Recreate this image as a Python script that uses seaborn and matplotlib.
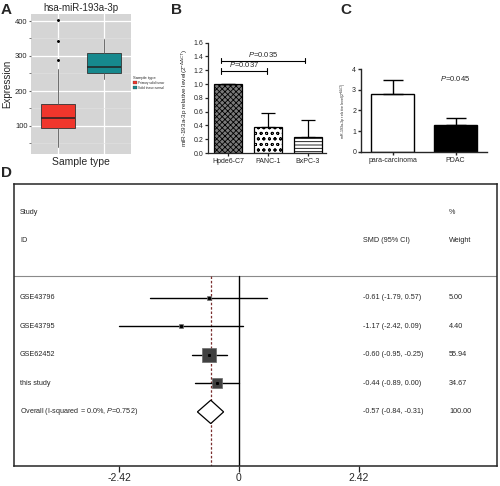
"""Multi-panel miR-193a-3p figure: TCGA boxplot, qPCR bars and forest plot."""

import matplotlib

matplotlib.use("Agg")
import matplotlib.pyplot as plt
from matplotlib.patches import Polygon
import numpy as np
import pandas as pd
import seaborn as sns

W, H = 500, 486

# ---- panel A: TCGA expression (box summary)
a_groups = ["Primary solid tumor", "Solid tissue normal"]
a_colors = ["#F0362C", "#16898E"]
a_whislo = [40, 235]
a_q1 = [95, 250]
a_med = [124, 269]
a_q3 = [163, 309]
a_whishi = [262, 348]
a_fliers = [[288, 342, 402], []]
a_yticks = [100, 200, 300, 400]

# ---- panel B: cell lines
b_lines = ["Hpde6-C7", "PANC-1", "BxPC-3"]
b_mean = [1.0, 0.38, 0.23]
b_err = [0.0, 0.20, 0.25]
b_brackets = [("0.037", 1, 1.19), ("0.035", 2, 1.34)]

# ---- panel C: tissues
c_groups = ["para-carcinoma", "PDAC"]
c_mean = [2.78, 1.30]
c_err = [0.67, 0.32]
c_p = "0.045"

# ---- panel D: meta-analysis
d_studies = ["GSE43796", "GSE43795", "GSE62452", "this study"]
d_smd = [-0.61, -1.17, -0.60, -0.44]
d_lo = [-1.79, -2.42, -0.95, -0.89]
d_hi = [0.57, 0.09, -0.25, 0.00]
d_weight = [5.00, 4.40, 55.94, 34.67]
d_overall = [-0.57, -0.84, -0.31]
d_overall_weight = "100.00"
d_xticks = [-2.42, 0, 2.42]


def px_axes(fig, left, top, right, bottom):
    return fig.add_axes([left / W, 1 - bottom / H, (right - left) / W, (bottom - top) / H])


sns.set_style("ticks")
plt.rcParams["font.family"] = ["Liberation Sans", "DejaVu Sans"]
plt.rcParams["mathtext.fontset"] = "custom"
plt.rcParams["mathtext.rm"] = "Liberation Sans"
plt.rcParams["mathtext.it"] = "Liberation Sans:italic"
plt.rcParams["hatch.linewidth"] = 0.6
plt.rcParams["hatch.color"] = "black"

fig = plt.figure(figsize=(W / 100, H / 100), dpi=100)

# ================= A
ax = px_axes(fig, 31, 14, 131, 154)
stats = []
for i, g in enumerate(a_groups):
    stats.append(dict(label=g, whislo=a_whislo[i], q1=a_q1[i], med=a_med[i],
                      q3=a_q3[i], whishi=a_whishi[i], fliers=a_fliers[i]))
bp = ax.bxp(stats, positions=[0, 1], widths=0.75, patch_artist=True, showcaps=False,
            boxprops=dict(edgecolor="#333333", linewidth=0.6),
            medianprops=dict(color="#222222", linewidth=1.1),
            whiskerprops=dict(color="#555555", linewidth=0.6),
            flierprops=dict(marker="o", markersize=1.1, markerfacecolor="black",
                            markeredgecolor="black"))
for patch, col in zip(bp["boxes"], a_colors):
    patch.set_facecolor(col)
ax.set_xlim(-0.6, 1.6)
ax.set_ylim(20, 420)
ax.set_facecolor("#D5D5D5")
ax.set_axisbelow(True)
ax.set_yticks(a_yticks)
ax.set_yticks([50, 150, 250, 350], minor=True)
ax.set_xticks([0, 1])
ax.set_xticklabels([])
ax.grid(True, which="major", color="white", linewidth=0.9)
ax.grid(True, which="minor", axis="y", color="#E2E2E2", linewidth=0.4)
for s in ax.spines.values():
    s.set_visible(False)
ax.tick_params(axis="both", which="both", length=1.5, color="#666666", labelsize=5.5, pad=1)
ax.tick_params(axis="x", length=0)
ax.set_title("hsa-miR-193a-3p", fontsize=7, pad=2)
ax.set_ylabel("Expression", fontsize=7, labelpad=2)
ax.set_xlabel("Sample type", fontsize=7.5, labelpad=1)
fig.text(133 / W, 1 - 78 / H, "Sample type", fontsize=3, va="center")
for i, (g, col) in enumerate(zip(a_groups, a_colors)):
    y = 83 + i * 5
    fig.patches.append(plt.Rectangle((133 / W, 1 - (y + 1.5) / H), 3.5 / W, 3 / H,
                                     facecolor=col, edgecolor="#333333", linewidth=0.2,
                                     transform=fig.transFigure))
    fig.text(138 / W, 1 - y / H, g, fontsize=2.2, va="center")

# ================= B
axb = px_axes(fig, 208, 42.7, 326, 153)
df_b = pd.DataFrame({"line": b_lines, "level": b_mean})
sns.barplot(data=df_b, x="line", y="level", ax=axb, width=0.68, color="white",
            edgecolor="black", linewidth=0.9)
b_faces = ["#7A7A7A", "white", "white"]
b_hatch = ["xxxxxx", "ooo", "-----"]
for p, fc, ht in zip(axb.patches, b_faces, b_hatch):
    p.set_facecolor(fc)
    p.set_hatch(ht)
axb.errorbar(range(len(b_lines)), b_mean, yerr=[np.zeros(3), b_err], fmt="none",
             ecolor="black", elinewidth=0.9, capsize=5, capthick=0.9)
for ptxt, j, yv in b_brackets:
    x0, x1 = -0.17, j - 0.03 if j == 1 else j - 0.07
    axb.plot([x0, x1], [yv, yv], color="black", lw=0.8)
    for xx in (x0, x1):
        axb.plot([xx, xx], [yv - 0.04, yv + 0.04], color="black", lw=0.8)
    axb.text((x0 + x1) / 2, yv + 0.03, r"$\it{P}$=" + ptxt, ha="center", va="bottom", fontsize=5.5)
axb.set_ylim(0, 1.6)
axb.set_xlim(-0.5, 2.45)
axb.set_yticks(np.arange(0, 1.61, 0.2))
axb.set_yticklabels([f"{v:.1f}" for v in np.arange(0, 1.61, 0.2)])
axb.set_xlabel("")
axb.set_ylabel(r"miR-193a-3p relative level(2$^{-\Delta\Delta CT}$)", fontsize=4.6, labelpad=2)
sns.despine(ax=axb)
axb.tick_params(labelsize=5, length=2.5, width=0.9, pad=1)
for s in axb.spines.values():
    s.set_linewidth(0.9)

# ================= C
axc = px_axes(fig, 361, 69, 487, 152)
df_c = pd.DataFrame({"group": c_groups, "level": c_mean})
sns.barplot(data=df_c, x="group", y="level", ax=axc, width=0.67,
            palette=["white", "black"], hue="group", legend=False,
            edgecolor="black", linewidth=1.0)
axc.errorbar(range(len(c_groups)), c_mean, yerr=[np.zeros(2), c_err], fmt="none",
             ecolor="black", elinewidth=1.0, capsize=7, capthick=1.0)
axc.text(1.0, 3.55, r"$\it{P}$=" + c_p, ha="center", va="center", fontsize=5.5)
axc.set_ylim(0, 4)
axc.set_xlim(-0.5, 1.5)
axc.set_yticks(range(5))
axc.set_xlabel("")
axc.set_ylabel(r"miR-193a-3p relative level(2$^{-\Delta\Delta CT}$)", fontsize=2.6, labelpad=2)
sns.despine(ax=axc)
axc.tick_params(labelsize=5, length=2.5, width=1.0, pad=1)
for s in axc.spines.values():
    s.set_linewidth(1.0)

# ================= D
axd = px_axes(fig, 14, 184, 497, 466)
axd.set_xlim(-4.55, 5.22)
axd.set_ylim(5.9, -4.0)
rows = np.arange(len(d_studies))
head_y = -0.77
axd.axhline(head_y, color="#8A8A8A", lw=0.8)
axd.plot([0, 0], [head_y, 5.9], color="black", lw=1.0)
axd.plot([d_overall[0]] * 2, [head_y, 5.9], color="#7A2E2E", lw=0.9, ls=(0, (2, 1.5)))
for r, m, lo, hi, w in zip(rows, d_smd, d_lo, d_hi, d_weight):
    axd.plot([lo, hi], [r, r], color="black", lw=1.0)
    axd.plot(m, r, marker="s", markersize=1.3 * np.sqrt(w), color="#404040",
             markeredgecolor="#6A6A6A", markeredgewidth=0.5)
    axd.plot(m, r, marker="s", markersize=1.2, color="black")
ov_y = len(d_studies)
ov_m, ov_lo, ov_hi = d_overall
axd.add_patch(Polygon([[ov_lo, ov_y], [ov_m, ov_y - 0.41], [ov_hi, ov_y], [ov_m, ov_y + 0.41]],
                      closed=True, facecolor="white", edgecolor="black", lw=0.9, zorder=3))
lab_x, smd_x, w_x = -4.43, 2.5, 4.25
fs = 5.2
axd.text(lab_x, -3.0, "Study", fontsize=fs, va="center")
axd.text(lab_x, -2.0, "ID", fontsize=fs, va="center")
axd.text(smd_x, -2.0, "SMD (95% CI)", fontsize=fs, va="center")
axd.text(w_x, -3.0, "%", fontsize=fs, va="center")
axd.text(w_x, -2.0, "Weight", fontsize=fs, va="center")
for r, name, mm, lo, hi, w in zip(rows, d_studies, d_smd, d_lo, d_hi, d_weight):
    axd.text(lab_x, r, name, fontsize=fs, va="center")
    axd.text(smd_x, r, f"{mm:.2f} ({lo:.2f}, {hi:.2f})", fontsize=fs, va="center")
    axd.text(w_x, r, f"{w:.2f}", fontsize=fs, va="center")
axd.text(lab_x, ov_y, r"Overall (I-squared = 0.0%, $\it{P}$=0.752)", fontsize=fs, va="center")
axd.text(smd_x, ov_y, f"{ov_m:.2f} ({ov_lo:.2f}, {ov_hi:.2f})", fontsize=fs, va="center")
axd.text(w_x, ov_y, d_overall_weight, fontsize=fs, va="center")
axd.set_xticks(d_xticks)
axd.set_xticklabels([f"{v:g}" for v in d_xticks])
axd.set_yticks([])
axd.tick_params(axis="x", labelsize=7.5, length=4, width=0.9, pad=1)
for s in axd.spines.values():
    s.set_linewidth(1.1)
    s.set_visible(True)

# panel letters
for letter, x, y in [("A", 1, 10), ("B", 171, 10), ("C", 340, 10), ("D", 1, 173)]:
    fig.text(x / W, 1 - y / H, letter, fontsize=11, fontweight="bold", va="center")

fig.savefig("out.png", dpi=100)
